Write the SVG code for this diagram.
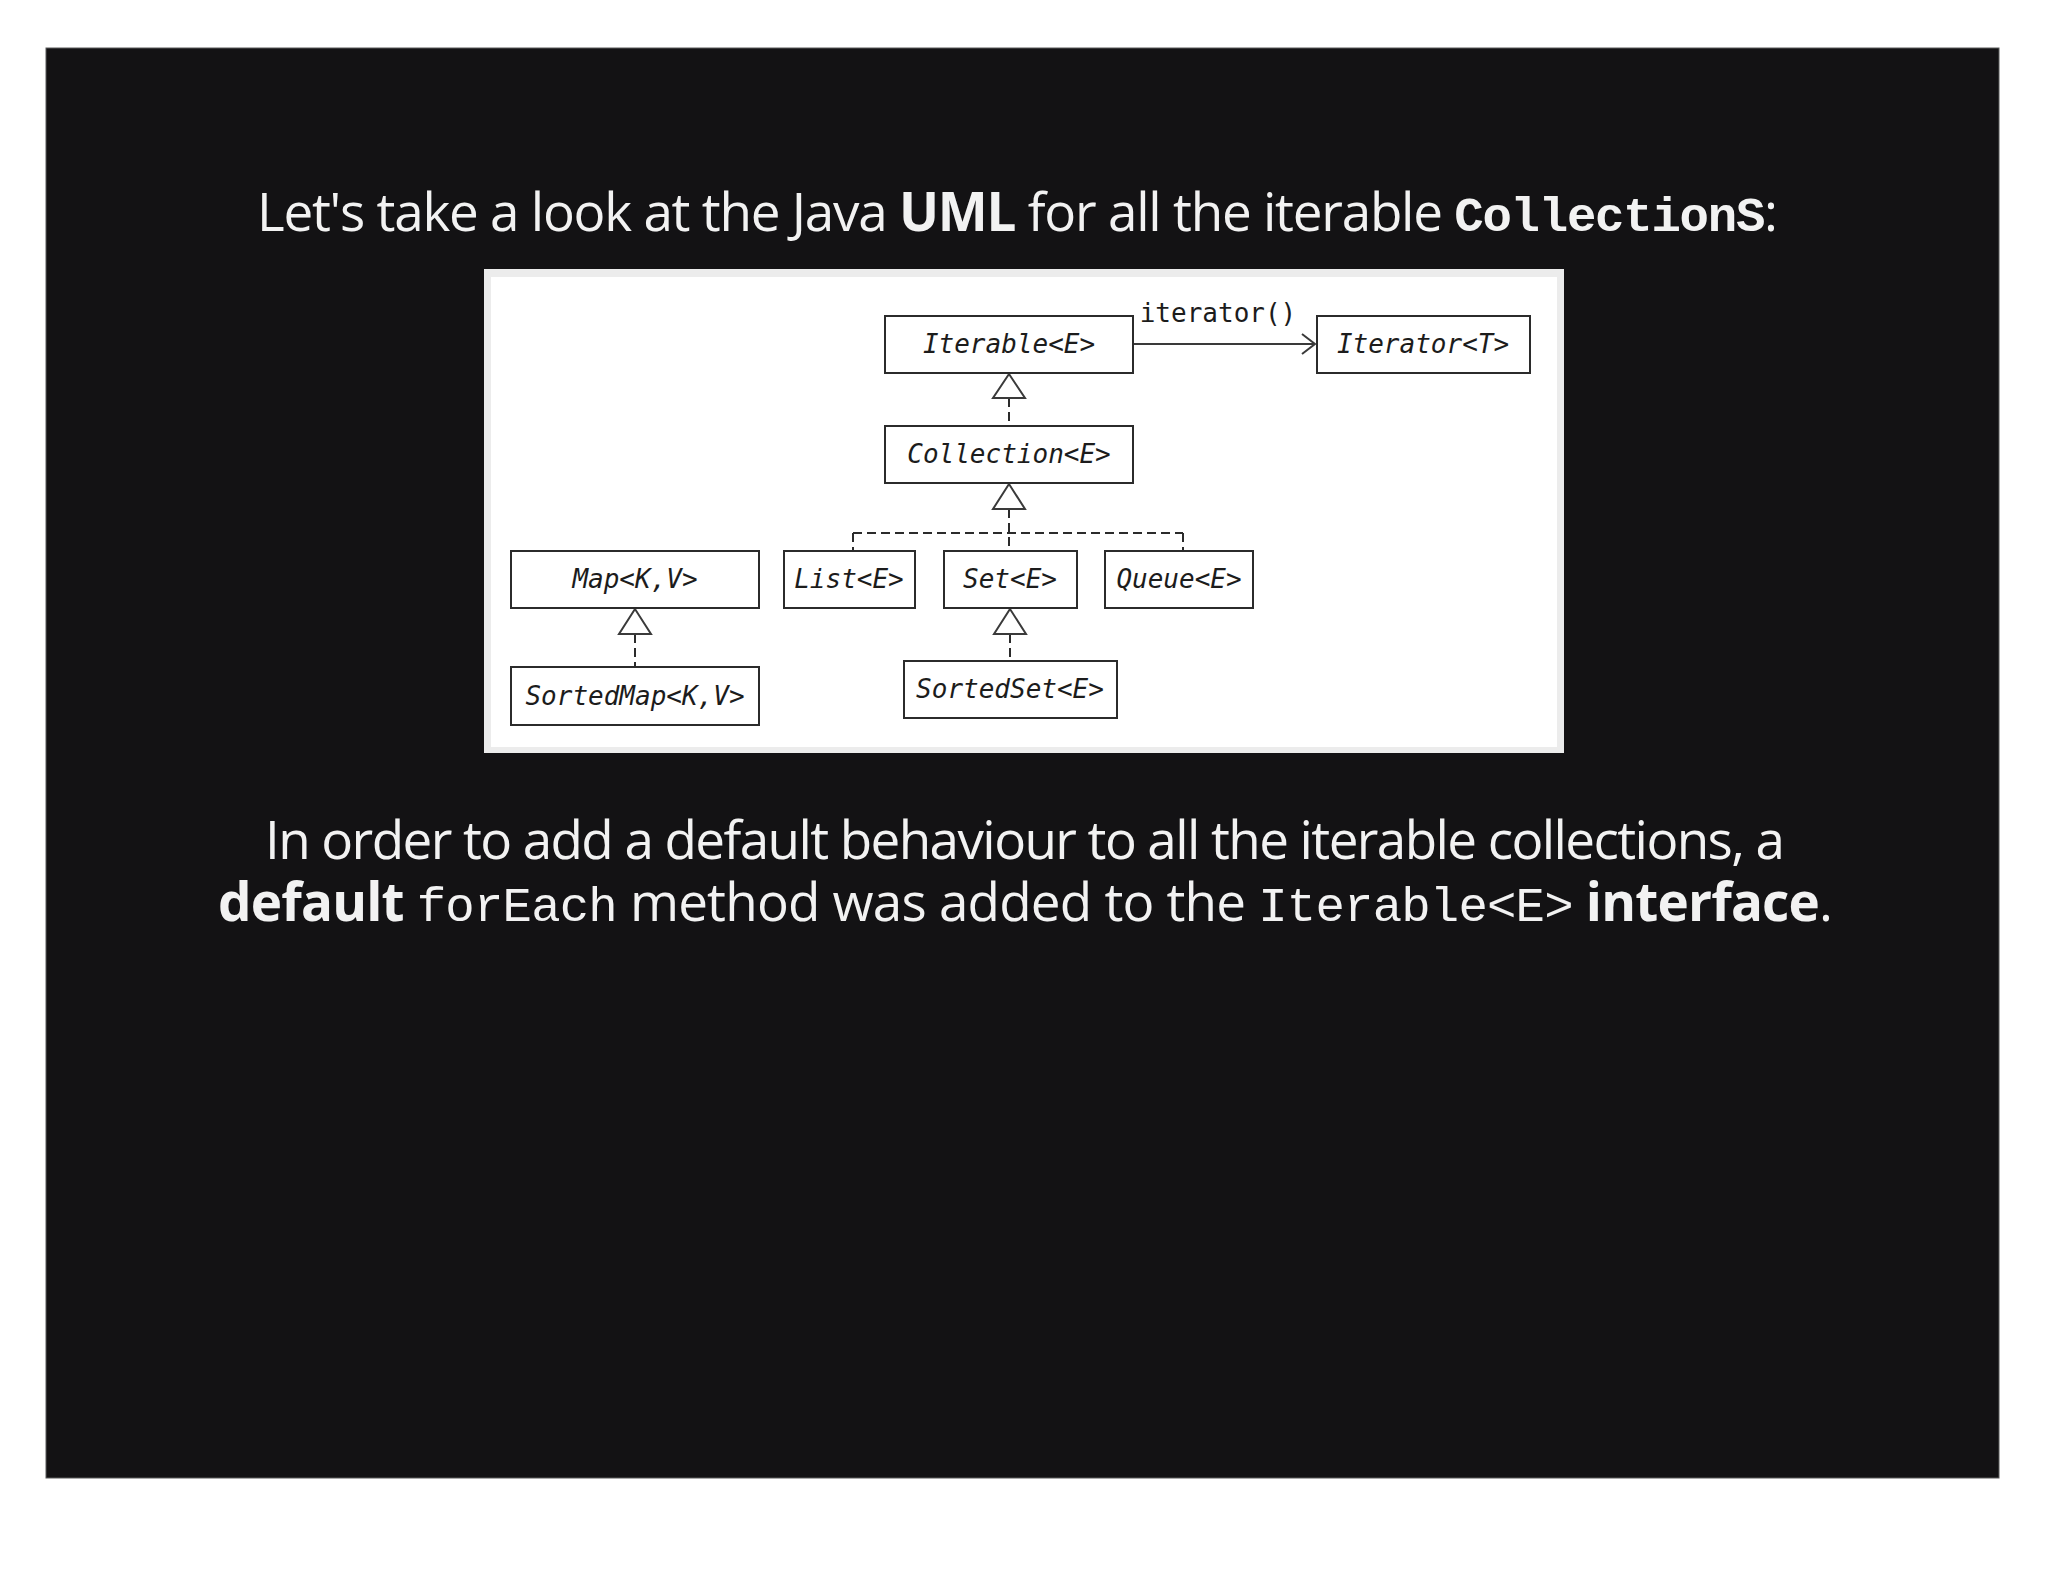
<svg xmlns="http://www.w3.org/2000/svg" width="2048" height="1582" viewBox="0 0 2048 1582">
<style>
.sans{font-family:"Open Sans","Noto Sans","DejaVu Sans",sans-serif;fill:#f2f2f2;font-size:53px}
.b{font-weight:700}
.mono{font-family:"Liberation Mono","Courier New",monospace;font-size:49px}
.box{fill:#ffffff;stroke:#2b2b2b;stroke-width:2}
.lbl{font-family:"DejaVu Sans Mono",monospace;font-style:italic;font-size:26px;fill:#1c1c1c;text-anchor:middle}
.meth{font-family:"DejaVu Sans Mono",monospace;font-size:26px;fill:#1c1c1c;text-anchor:middle}
.dash{fill:none;stroke:#2b2b2b;stroke-width:2;stroke-dasharray:9 5}
.tri{fill:#ffffff;stroke:#3a3a3a;stroke-width:2;stroke-linejoin:miter}
.solid{fill:none;stroke:#3a3a3a;stroke-width:2.2}
</style>
<defs>
<marker id="open" markerWidth="16" markerHeight="22" refX="14" refY="11" orient="auto" markerUnits="userSpaceOnUse">
<path d="M1,1 L14,11 L1,21" fill="none" stroke="#3a3a3a" stroke-width="2"/>
</marker>
</defs>
<rect x="0" y="0" width="2048" height="1582" fill="#ffffff"/>
<rect x="46" y="48" width="1953" height="1430" fill="#131214" stroke="#5a5a5a" stroke-width="1"/>
<text class="sans" x="257" y="231" textLength="1521" lengthAdjust="spacing">Let's take a look at the Java <tspan class="b">UML</tspan> for all the iterable <tspan class="mono b">CollectionS</tspan>:</text>
<rect x="484" y="269" width="1080" height="484" fill="#ececec"/>
<rect x="491" y="277" width="1066" height="470" fill="#ffffff"/>
<g id="connectors">
<line class="solid" x1="1133" y1="344" x2="1315" y2="344" marker-end="url(#open)"/>
<text class="meth" x="1218" y="322">iterator()</text>
<line class="dash" x1="1009" y1="398" x2="1009" y2="426"/>
<line class="dash" x1="1009" y1="509" x2="1009" y2="551"/>
<line class="dash" x1="853" y1="533" x2="1183" y2="533"/>
<line class="dash" x1="853" y1="533" x2="853" y2="551"/>
<line class="dash" x1="1183" y1="533" x2="1183" y2="551"/>
<line class="dash" x1="1010" y1="634" x2="1010" y2="661"/>
<line class="dash" x1="635" y1="634" x2="635" y2="667"/>
<polygon class="tri" points="1009,374 993,398 1025,398"/>
<polygon class="tri" points="1009,484 993,509 1025,509"/>
<polygon class="tri" points="1010,609 994,634 1026,634"/>
<polygon class="tri" points="635,609 619,634 651,634"/>
</g>
<g id="iterable"><rect class="box" x="885" y="316" width="248" height="57"/><text class="lbl" x="1009" y="353">Iterable&lt;E&gt;</text></g>
<g id="iterator"><rect class="box" x="1317" y="316" width="213" height="57"/><text class="lbl" x="1423" y="353">Iterator&lt;T&gt;</text></g>
<g id="collection"><rect class="box" x="885" y="426" width="248" height="57"/><text class="lbl" x="1009" y="463">Collection&lt;E&gt;</text></g>
<g id="map"><rect class="box" x="511" y="551" width="248" height="57"/><text class="lbl" x="635" y="588">Map&lt;K,V&gt;</text></g>
<g id="list"><rect class="box" x="784" y="551" width="131" height="57"/><text class="lbl" x="849" y="588">List&lt;E&gt;</text></g>
<g id="set"><rect class="box" x="944" y="551" width="133" height="57"/><text class="lbl" x="1010" y="588">Set&lt;E&gt;</text></g>
<g id="queue"><rect class="box" x="1105" y="551" width="148" height="57"/><text class="lbl" x="1179" y="588">Queue&lt;E&gt;</text></g>
<g id="sortedmap"><rect class="box" x="511" y="667" width="248" height="58"/><text class="lbl" x="635" y="705">SortedMap&lt;K,V&gt;</text></g>
<g id="sortedset"><rect class="box" x="904" y="661" width="213" height="57"/><text class="lbl" x="1010" y="698">SortedSet&lt;E&gt;</text></g>
<text class="sans" x="265" y="859" textLength="1520" lengthAdjust="spacing">In order to add a default behaviour to all the iterable collections, a</text>
<text class="sans" x="218" y="921" textLength="1615" lengthAdjust="spacing"><tspan class="b">default</tspan> <tspan class="mono">forEach</tspan> method was added to the <tspan class="mono">Iterable&lt;E&gt;</tspan> <tspan class="b">interface</tspan>.</text>
</svg>
